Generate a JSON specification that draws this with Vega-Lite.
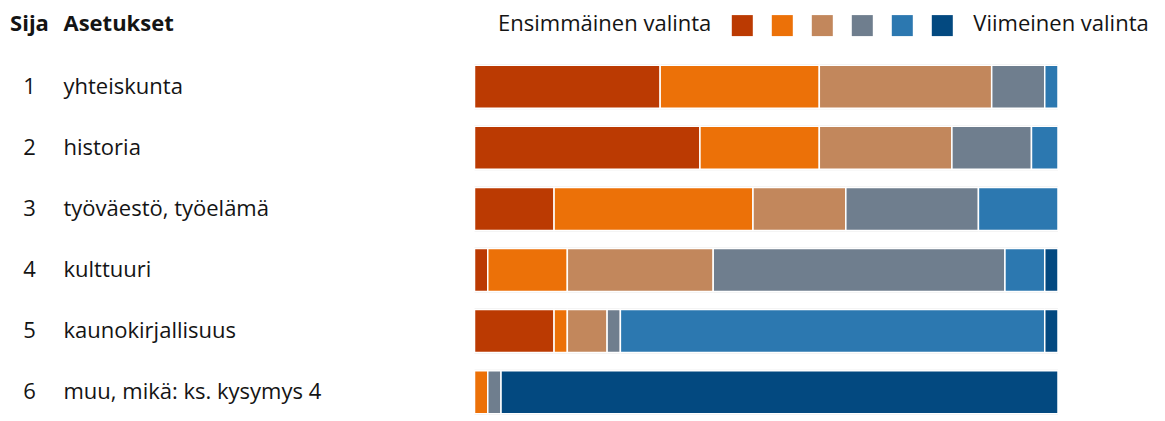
{
  "$schema": "https://vega.github.io/schema/vega-lite/v6.json",
  "width": 1165,
  "height": 421,
  "padding": 0,
  "autosize": {"type": "none"},
  "background": "white",
  "config": {
    "view": {"stroke": null},
    "text": {"font": "Open Sans", "fontSize": 22, "color": "#141414", "baseline": "middle"}
  },
  "datasets": {
    "bars": [
      {"rank": 1, "choice": "1", "count": 14}, {"rank": 1, "choice": "2", "count": 12}, {"rank": 1, "choice": "3", "count": 13}, {"rank": 1, "choice": "4", "count": 4}, {"rank": 1, "choice": "5", "count": 1},
      {"rank": 2, "choice": "1", "count": 17}, {"rank": 2, "choice": "2", "count": 9}, {"rank": 2, "choice": "3", "count": 10}, {"rank": 2, "choice": "4", "count": 6}, {"rank": 2, "choice": "5", "count": 2},
      {"rank": 3, "choice": "1", "count": 6}, {"rank": 3, "choice": "2", "count": 15}, {"rank": 3, "choice": "3", "count": 7}, {"rank": 3, "choice": "4", "count": 10}, {"rank": 3, "choice": "5", "count": 6},
      {"rank": 4, "choice": "1", "count": 1}, {"rank": 4, "choice": "2", "count": 6}, {"rank": 4, "choice": "3", "count": 11}, {"rank": 4, "choice": "4", "count": 22}, {"rank": 4, "choice": "5", "count": 3}, {"rank": 4, "choice": "6", "count": 1},
      {"rank": 5, "choice": "1", "count": 6}, {"rank": 5, "choice": "2", "count": 1}, {"rank": 5, "choice": "3", "count": 3}, {"rank": 5, "choice": "4", "count": 1}, {"rank": 5, "choice": "5", "count": 32}, {"rank": 5, "choice": "6", "count": 1},
      {"rank": 6, "choice": "2", "count": 1}, {"rank": 6, "choice": "4", "count": 1}, {"rank": 6, "choice": "6", "count": 42}
    ],
    "labels": [
      {"rank": 1, "name": "yhteiskunta"},
      {"rank": 2, "name": "historia"},
      {"rank": 3, "name": "työväestö, työelämä"},
      {"rank": 4, "name": "kulttuuri"},
      {"rank": 5, "name": "kaunokirjallisuus"},
      {"rank": 6, "name": "muu, mikä: ks. kysymys 4"}
    ],
    "legend": [
      {"choice": "1"}, {"choice": "2"}, {"choice": "3"}, {"choice": "4"}, {"choice": "5"}, {"choice": "6"}
    ]
  },
  "resolve": {"scale": {"x": "independent"}},
  "layer": [
    {
      "data": {"name": "bars"},
      "mark": {"type": "bar", "orient": "horizontal", "height": 45, "color": "#e1e1e1"},
      "encoding": {
        "y": {"field": "rank", "type": "quantitative", "scale": {"domain": [0, 6], "range": [20.6, 397.2], "nice": false, "zero": false}, "axis": null},
        "x": {"aggregate": "sum", "field": "count", "type": "quantitative", "stack": "zero", "scale": {"domain": [0, 44], "range": [474.5, 1058], "nice": false}, "axis": null}
      }
    },
    {
      "data": {"name": "bars"},
      "mark": {"type": "bar", "orient": "horizontal", "height": 43, "stroke": "white", "strokeWidth": 1.5},
      "encoding": {
        "y": {"field": "rank", "type": "quantitative", "axis": null},
        "x": {"aggregate": "sum", "field": "count", "type": "quantitative", "stack": "zero", "scale": {"domain": [0, 44], "range": [474.5, 1058], "nice": false}, "axis": null},
        "color": {"field": "choice", "type": "nominal", "scale": {"domain": ["1", "2", "3", "4", "5", "6"], "range": ["#bb3a02", "#ec7108", "#c2875c", "#6f7e8e", "#2c78b0", "#034980"]}, "legend": null},
        "order": {"field": "choice", "type": "ordinal"}
      }
    },
    {
      "data": {"name": "labels"},
      "mark": {"type": "text", "align": "center"},
      "encoding": {
        "y": {"field": "rank", "type": "quantitative", "axis": null},
        "x": {"datum": "Sija", "type": "nominal", "scale": {"type": "point", "domain": ["Sija", "Asetukset"], "range": [29.5, 63.5], "padding": 0}, "axis": null},
        "text": {"field": "rank", "type": "nominal"}
      }
    },
    {
      "data": {"name": "labels"},
      "mark": {"type": "text", "align": "left"},
      "encoding": {
        "y": {"field": "rank", "type": "quantitative", "axis": null},
        "x": {"datum": "Asetukset", "type": "nominal", "scale": {"type": "point", "domain": ["Sija", "Asetukset"], "range": [29.5, 63.5], "padding": 0}, "axis": null},
        "text": {"field": "name", "type": "nominal"}
      }
    },
    {
      "data": {"values": [{"column": "Sija"}]},
      "mark": {"type": "text", "align": "center", "fontWeight": "bold", "dy": -2},
      "encoding": {
        "y": {"datum": 0, "type": "quantitative", "axis": null},
        "x": {"field": "column", "type": "nominal", "scale": {"type": "point", "domain": ["Sija", "Asetukset"], "range": [29.5, 63.5], "padding": 0}, "axis": null},
        "text": {"field": "column", "type": "nominal"}
      }
    },
    {
      "data": {"values": [{"column": "Asetukset"}]},
      "mark": {"type": "text", "align": "left", "fontWeight": "bold", "dy": -2},
      "encoding": {
        "y": {"datum": 0, "type": "quantitative", "axis": null},
        "x": {"field": "column", "type": "nominal", "scale": {"type": "point", "domain": ["Sija", "Asetukset"], "range": [29.5, 63.5], "padding": 0}, "axis": null},
        "text": {"field": "column", "type": "nominal"}
      }
    },
    {
      "data": {"name": "legend"},
      "mark": {"type": "square", "size": 441, "opacity": 1, "filled": true},
      "encoding": {
        "y": {"datum": 0, "type": "quantitative", "axis": null},
        "x": {"field": "choice", "type": "nominal", "scale": {"type": "point", "domain": ["first", "1", "2", "3", "4", "5", "6", "last"], "range": [702.3, 982.3], "padding": 0}, "axis": null},
        "color": {"field": "choice", "type": "nominal", "legend": null}
      }
    },
    {
      "data": {"values": [{"slot": "first", "label": "Ensimmäinen valinta"}]},
      "mark": {"type": "text", "align": "right", "dx": 9, "dy": -2},
      "encoding": {
        "y": {"datum": 0, "type": "quantitative", "axis": null},
        "x": {"field": "slot", "type": "nominal", "scale": {"type": "point", "domain": ["first", "1", "2", "3", "4", "5", "6", "last"], "range": [702.3, 982.3], "padding": 0}, "axis": null},
        "text": {"field": "label", "type": "nominal"}
      }
    },
    {
      "data": {"values": [{"slot": "last", "label": "Viimeinen valinta"}]},
      "mark": {"type": "text", "align": "left", "dx": -9, "dy": -2},
      "encoding": {
        "y": {"datum": 0, "type": "quantitative", "axis": null},
        "x": {"field": "slot", "type": "nominal", "scale": {"type": "point", "domain": ["first", "1", "2", "3", "4", "5", "6", "last"], "range": [702.3, 982.3], "padding": 0}, "axis": null},
        "text": {"field": "label", "type": "nominal"}
      }
    }
  ]
}
